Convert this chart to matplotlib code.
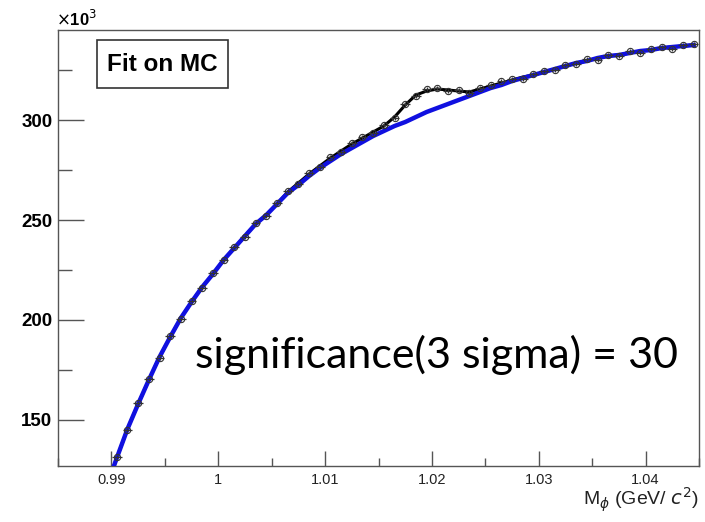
import numpy as np
import matplotlib
matplotlib.use('Agg')
import matplotlib.pyplot as plt
from matplotlib.patches import Rectangle
from matplotlib.ticker import MultipleLocator

plt.rcParams['font.family'] = ['Liberation Sans', 'DejaVu Sans']

# Центры бинов (GeV/c^2), ширина бина 0.001
mass = [0.9905, 0.9915, 0.9925, 0.9935, 0.9945, 0.9955, 0.9965, 0.9975,
        0.9985, 0.9995, 1.0005, 1.0015, 1.0025, 1.0035, 1.0045, 1.0055,
        1.0065, 1.0075, 1.0085, 1.0095, 1.0105, 1.0115, 1.0125, 1.0135,
        1.0145, 1.0155, 1.0165, 1.0175, 1.0185, 1.0195, 1.0205, 1.0215,
        1.0225, 1.0235, 1.0245, 1.0255, 1.0265, 1.0275, 1.0285, 1.0295,
        1.0305, 1.0315, 1.0325, 1.0335, 1.0345, 1.0355, 1.0365, 1.0375,
        1.0385, 1.0395, 1.0405, 1.0415, 1.0425, 1.0435, 1.0445]

# Узлы для кривых фита (начинаются чуть левее первого бина)
curve_mass = [0.9895] + mass

# Фон (синяя линия), x10^3
background = [116, 131, 145.5, 158, 170, 181.5, 191.5, 201, 209,
              216.5, 223, 230, 236, 242, 248, 252.5, 258,
              263.5, 267.5, 272, 276, 279.5, 283, 286, 289,
              292, 294.5, 297, 299, 301.5, 304, 306, 308,
              310, 312, 314, 316, 317.5, 319.5, 321, 322.5,
              324, 325.5, 327, 328.5, 329.5, 331, 332, 332.5,
              333.5, 334.5, 335, 336, 336.5, 337, 337.5]

# Полный фит (черная линия), x10^3
fit_total = [116, 131, 145.5, 158, 170, 181.5, 191.5, 201, 209,
             216.5, 223, 230, 236, 242, 248, 252.5, 258,
             264, 268.5, 273, 277, 281, 284.5, 288, 291,
             294, 297, 301.5, 307.5, 312.5, 314.5, 315.5, 315,
             314.5, 314, 315.5, 317, 318.5, 320, 321.5, 322.5,
             324, 325.5, 327, 328.5, 329.5, 331, 332, 332.5,
             333.5, 334.5, 335, 336, 336.5, 337, 337.5]

# Данные MC, x10^3
mc_counts = [131.5, 145, 158.5, 170.5, 181, 192, 200.5, 209.5,
             216, 223.5, 230, 236.5, 241.5, 248.5, 252, 258.5,
             264.5, 268, 273.5, 276.5, 281.5, 284, 288.5, 291.5,
             293.5, 297.5, 301, 308, 312, 315.5, 316, 314.5,
             315, 313.5, 316, 317.5, 319.5, 320.5, 320.5, 323,
             324.5, 325, 327.5, 328, 330.5, 330, 332.5, 332,
             334.5, 333.5, 335.5, 336.5, 335.5, 337.5, 338]

fig = plt.figure(figsize=(7.05, 5.22), dpi=100)
ax = fig.add_axes([0.0823, 0.1073, 0.9092, 0.8352])

ax.plot(curve_mass, fit_total, color='black', lw=2.2, zorder=2)
ax.plot(curve_mass, background, color='#1010e0', lw=3.2, zorder=3)
ax.errorbar(mass, mc_counts, xerr=0.00045, yerr=1.2, fmt='o', ms=4.5,
            mfc='none', mec='#333333', ecolor='#333333', elinewidth=0.9,
            mew=0.8, zorder=4)

ax.set_xlim(0.985, 1.045)
ax.set_ylim(127, 345)

ax.xaxis.set_minor_locator(MultipleLocator(0.005))
ax.yaxis.set_major_locator(MultipleLocator(50))
ax.yaxis.set_minor_locator(MultipleLocator(25))
ax.set_xticks([0.99, 1.0, 1.01, 1.02, 1.03, 1.04])
ax.set_xticklabels(['0.99', '1', '1.01', '1.02', '1.03', '1.04'])

ax.tick_params(axis='both', which='both', direction='in', top=False, right=False,
               color='#555555')
ax.tick_params(axis='x', which='major', length=11, width=1, pad=5,
               labelsize=10.5, labelcolor='#222222')
ax.tick_params(axis='x', which='minor', length=6, width=1)
ax.tick_params(axis='y', which='major', length=19, width=1, pad=4, labelsize=13.5)
ax.tick_params(axis='y', which='minor', length=10, width=1)
for lbl in ax.get_yticklabels():
    lbl.set_fontweight('bold')

for s in ax.spines.values():
    s.set_color('#555555')
    s.set_linewidth(1.0)

fig.text(0.0795, 0.945, r'$\times$10$^3$', fontsize=12, fontweight='bold',
         ha='left', va='bottom')

# Рамка с подписью
ax.add_patch(Rectangle((0.0608, 0.867), 0.2044, 0.11, transform=ax.transAxes,
                       fc='white', ec='#333333', lw=1.2, zorder=5))
ax.text(0.163, 0.922, 'Fit on MC', transform=ax.transAxes, fontsize=17.5,
        fontweight='bold', va='center', ha='center', zorder=6)

ax.text(0.968, 0.225, 'significance(3 sigma) = 30', transform=ax.transAxes,
        fontsize=31, family='Lato', ha='right', va='baseline', zorder=6)

fig.text(0.992, 0.042, r'M$_{\phi}$ (GeV/ $c^{2}$)', fontsize=14,
         ha='right', va='center', color='#222222')

fig.savefig('out.png', dpi=100)
